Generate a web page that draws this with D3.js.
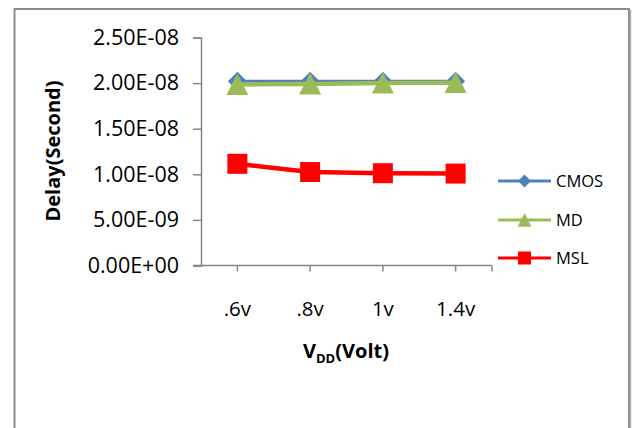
<!DOCTYPE html>
<html>
<head>
<meta charset="utf-8">
<script src="https://cdn.jsdelivr.net/npm/d3@7"></script>
<style>
  html, body { margin: 0; padding: 0; background: #fff; }
  svg { display: block; font-family: "Open Sans", "Liberation Sans", sans-serif; }
</style>
</head>
<body>
<svg id="chart" width="633" height="428"></svg>
<script>
// Supply voltages on the x axis
const categories = [".6v", ".8v", "1v", "1.4v"];
// Delay in seconds for each design style
const cmosDelay = [2.02e-8, 2.02e-8, 2.02e-8, 2.02e-8];
const mdDelay   = [1.985e-8, 1.99e-8, 2.0e-8, 2.005e-8];
const mslDelay  = [1.115e-8, 1.025e-8, 1.012e-8, 1.008e-8];
const seriesNames = ["CMOS", "MD", "MSL"];
const yTicks = [0, 5e-9, 1e-8, 1.5e-8, 2e-8, 2.5e-8];
const yTickLabels = ["0.00E+00", "5.00E-09", "1.00E-08", "1.50E-08", "2.00E-08", "2.50E-08"];

const svg = d3.select("#chart");
const axisColor = "#868686";

// Outer chart frame (bottom edge runs off the page)
svg.append("path")
  .attr("d", "M14.5,440 L14.5,9 L629,9 L629,440")
  .attr("fill", "none")
  .attr("stroke", "#8c8c8c")
  .attr("stroke-width", 2);
svg.append("line")
  .attr("x1", 630.5).attr("x2", 630.5).attr("y1", 10).attr("y2", 440)
  .attr("stroke", "#b0b0b0").attr("stroke-width", 1.5);

const x = d3.scaleBand().domain(categories).range([201, 492]);
const y = d3.scaleLinear().domain([0, 2.5e-8]).range([265.5, 37.5]);

// Y axis
const yAxis = d3.axisLeft(y)
  .tickValues(yTicks)
  .tickFormat((d, i) => yTickLabels[i])
  .tickSize(8)
  .tickPadding(14);
const gy = svg.append("g").attr("transform", "translate(201,0)").call(yAxis);
gy.select(".domain").attr("stroke", axisColor).attr("stroke-width", 1.5);
gy.selectAll(".tick line").attr("stroke", axisColor).attr("stroke-width", 1.5);
gy.selectAll(".tick text")
  .attr("font-family", "Open Sans")
  .attr("font-size", 21.5)
  .attr("fill", "#000");

// X axis: tick marks sit at category centres and at the right end
const xAxis = d3.axisBottom(x).tickSize(0).tickPadding(36);
const gx = svg.append("g").attr("transform", "translate(0,265.5)").call(xAxis);
gx.select(".domain").attr("stroke", axisColor).attr("stroke-width", 1.5)
  .attr("d", "M193,0H492");
gx.selectAll(".tick text")
  .attr("font-family", "Open Sans")
  .attr("font-size", 20.5)
  .attr("fill", "#000");
const xTickPos = categories.map(c => x(c) + x.bandwidth() / 2).concat([x.range()[1]]);
gx.selectAll("line.mtick")
  .data(xTickPos)
  .join("line")
  .attr("class", "mtick")
  .attr("x1", d => d).attr("x2", d => d)
  .attr("y1", 0).attr("y2", 6)
  .attr("stroke", axisColor).attr("stroke-width", 1.5);

// Axis titles
const xt = svg.append("text")
  .attr("x", 346).attr("y", 358)
  .attr("text-anchor", "middle")
  .attr("font-weight", "bold")
  .attr("font-size", 20)
  .attr("fill", "#000");
xt.append("tspan").text("V");
xt.append("tspan").attr("font-size", 13).attr("dy", 5).text("DD");
xt.append("tspan").attr("dy", -5).text("(Volt)");

svg.append("text")
  .attr("transform", "translate(60,151) rotate(-90)")
  .attr("text-anchor", "middle")
  .attr("font-weight", "bold")
  .attr("font-size", 20)
  .attr("fill", "#000")
  .text("Delay(Second)");

// Series
const cx = c => x(c) + x.bandwidth() / 2;
const series = [
  { name: seriesNames[0], values: cmosDelay, color: "#4F81BD", width: 3, marker: "diamond", size: 9.5 },
  { name: seriesNames[1], values: mdDelay,   color: "#9BBB59", width: 4.5, marker: "triangle", size: 11 },
  { name: seriesNames[2], values: mslDelay,  color: "#FF0000", width: 4.5, marker: "square", size: 10 }
];

function markerPath(type, s) {
  if (type === "diamond") return `M0,${-s}L${s},0L0,${s}L${-s},0Z`;
  if (type === "triangle") return `M0,${-s}L${s},${s * 0.95}L${-s},${s * 0.95}Z`;
  return `M${-s},${-s}H${s}V${s}H${-s}Z`;
}

const line = d3.line().x((d, i) => cx(categories[i])).y(d => y(d));

series.forEach(s => {
  const g = svg.append("g");
  g.append("path")
    .attr("d", line(s.values))
    .attr("fill", "none")
    .attr("stroke", s.color)
    .attr("stroke-width", s.width)
    .attr("stroke-linejoin", "round");
  g.selectAll("path.m")
    .data(s.values)
    .join("path")
    .attr("class", "m")
    .attr("transform", (d, i) => `translate(${cx(categories[i])},${y(d)})`)
    .attr("d", markerPath(s.marker, s.size))
    .attr("fill", s.color);
});

// Legend
const legendY = [181, 220, 258];
series.forEach((s, i) => {
  const g = svg.append("g").attr("transform", `translate(0,${legendY[i]})`);
  g.append("line")
    .attr("x1", 498).attr("x2", 551).attr("y1", 0).attr("y2", 0)
    .attr("stroke", s.color).attr("stroke-width", 3);
  g.append("path")
    .attr("transform", "translate(524.5,0)")
    .attr("d", markerPath(s.marker, s.marker === "triangle" ? 7 : 6.5))
    .attr("fill", s.color);
  g.append("text")
    .attr("x", 556).attr("y", 0).attr("dy", "0.35em")
    .attr("font-size", 16.5)
    .attr("fill", "#000")
    .text(s.name);
});
</script>
</body>
</html>
